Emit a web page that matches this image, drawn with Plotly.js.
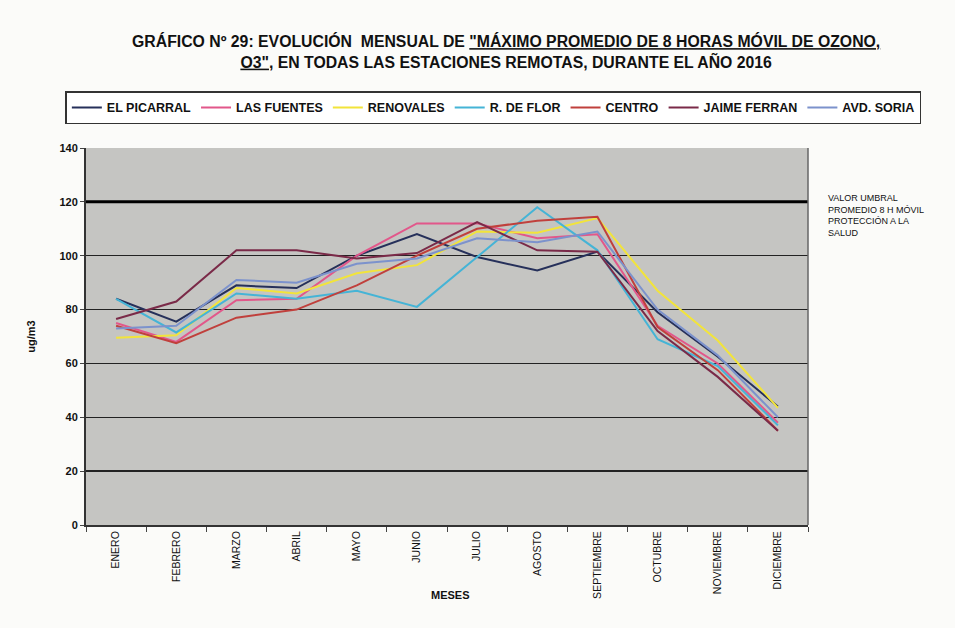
<!DOCTYPE html>
<html><head><meta charset="utf-8">
<script src="https://cdn.plot.ly/plotly-3.0.1.min.js"></script>
<style>body{margin:0;background:#fbfbf9}</style>
</head><body>
<div id="chart" style="width:955px;height:628px"></div>
<script>
const months = ["ENERO","FEBRERO","MARZO","ABRIL","MAYO","JUNIO","JULIO","AGOSTO","SEPTIEMBRE","OCTUBRE","NOVIEMBRE","DICIEMBRE"];
const elPicarral  = [84, 75.5, 89, 88, 100, 108, 99.5, 94.5, 101.5, 79, 62.5, 44];
const lasFuentes  = [75, 68, 83.5, 84, 100, 112, 112, 106.5, 108, 74, 60, 38];
const renovales   = [69.5, 70.5, 88, 86, 93.5, 96.5, 109, 108.5, 114, 87, 68.5, 43.5];
const rDeFlor     = [84, 71.5, 86, 84, 87, 81, 99.5, 118, 102, 69, 59, 37];
const centro      = [74, 67.5, 77, 80, 89, 100, 110, 113, 114.5, 73.5, 57.5, 35];
const jaimeFerran = [76.5, 83, 102, 102, 99, 101, 112.5, 102, 101.5, 72, 55, 35];
const avdSoria    = [73, 74, 91, 90, 97, 99, 106.5, 105, 109, 80, 63, 40];
const threshold = 120;
const yTicks = [0, 20, 40, 60, 80, 100, 120, 140];

const series = [
  ["EL PICARRAL", elPicarral, "#26305a"],
  ["LAS FUENTES", lasFuentes, "#e2578a"],
  ["RENOVALES", renovales, "#f2e43a"],
  ["R. DE FLOR", rDeFlor, "#45b4d6"],
  ["CENTRO", centro, "#c0403c"],
  ["JAIME FERRAN", jaimeFerran, "#7a2a48"],
  ["AVD. SORIA", avdSoria, "#7c92cc"]
];
const traces = series.map(s => ({
  type: "scatter", mode: "lines", name: s[0], x: months, y: s[1],
  line: {color: s[2], width: 2}
}));

const F = "Liberation Sans, Arial, sans-serif";
const layout = {
  width: 955, height: 628,
  paper_bgcolor: "#fbfbf9",
  plot_bgcolor: "#c5c5c2",
  margin: {l: 86, r: 147, t: 148, b: 103, autoexpand: false},
  font: {family: F, color: "#111", size: 11},
  title: {
    text: "<b>GRÁFICO Nº 29: EVOLUCIÓN  MENSUAL DE <span style=\"text-decoration:underline\">\"MÁXIMO PROMEDIO DE 8 HORAS MÓVIL DE OZONO,</span><br><span style=\"text-decoration:underline\">O3\"</span>, EN TODAS LAS ESTACIONES REMOTAS, DURANTE EL AÑO 2016</b>",
    font: {family: F, size: 15.8, color: "#111"},
    x: 0.53, xanchor: "center", y: 0.925, yanchor: "top"
  },
  showlegend: true,
  legend: {
    orientation: "h",
    x: 1.157, xanchor: "right", y: 1.15, yanchor: "top",
    bordercolor: "#333", borderwidth: 1.5, bgcolor: "#ffffff",
    font: {family: F, size: 12.5, color: "#111", weight: "bold"},
    itemwidth: 30, tracegroupgap: 0
  },
  xaxis: {
    type: "category", tickangle: -90, range: [-0.5, 11.5],
    tickfont: {family: F, size: 10.5, color: "#111"},
    ticks: "outside", tickson: "boundaries", ticklen: 5, tickcolor: "#444",
    showline: true, linecolor: "#333", linewidth: 2, mirror: false,
    showgrid: false, zeroline: false
  },
  yaxis: {
    range: [0, 140], tickvals: yTicks, ticktext: yTicks.map(v => "<b>" + v + "</b>"),
    tickfont: {family: F, size: 11, color: "#111"},
    showgrid: true, gridcolor: "#222", gridwidth: 1.5,
    showline: true, linecolor: "#333", linewidth: 2,
    ticks: "outside", ticklen: 4, zeroline: false,
    title: {text: "<b>ug/m3</b>", font: {family: F, size: 11, color: "#111"}, standoff: 22}
  },
  shapes: [
    {type: "line", xref: "paper", x0: 0, x1: 1, yref: "y", y0: threshold, y1: threshold,
     line: {color: "#000", width: 3}},
    {type: "line", xref: "paper", x0: 1, x1: 1, yref: "paper", y0: 0, y1: 1,
     line: {color: "#666", width: 1.5}}
  ],
  annotations: [
    {xref: "paper", yref: "paper", x: 1.025, y: 0.885, xanchor: "left", yanchor: "top", align: "left",
     showarrow: false, font: {family: F, size: 9, color: "#111"},
     text: "VALOR UMBRAL<br>PROMEDIO 8 H MÓVIL<br>PROTECCIÓN A LA<br>SALUD"},
    {xref: "paper", yref: "paper", x: 0.505, y: -0.186, xanchor: "center", yanchor: "middle",
     showarrow: false, font: {family: F, size: 11, color: "#111"}, text: "<b>MESES</b>"}
  ]
};
Plotly.newPlot("chart", traces, layout, {displayModeBar: false, staticPlot: true});
</script>
</body></html>
